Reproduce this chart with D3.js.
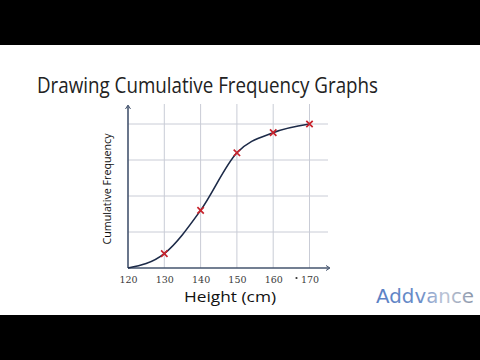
<!DOCTYPE html>
<html><head><meta charset="utf-8">
<script src="https://cdn.jsdelivr.net/npm/d3@7/dist/d3.min.js"></script>
<style>html,body{margin:0;padding:0;background:#fff;}svg{display:block;}</style>
</head><body>
<script>
const heights = [120, 130, 140, 150, 160, 170];
const cumFreq = [0, 10, 40, 80, 94, 100];
const plotted = [130, 140, 150, 160, 170];
const xTicks = [120, 130, 140, 150, 160, 170];
const yGrid = [25, 50, 75, 100];
const title = "Drawing Cumulative Frequency Graphs";
const xLabel = "Height (cm)";
const yLabel = "Cumulative Frequency";

const W = 480, H = 360;
const svg = d3.select("body").append("svg").attr("width", W).attr("height", H);
svg.append("rect").attr("width", W).attr("height", 45).attr("fill", "#000");
svg.append("rect").attr("y", 315).attr("width", W).attr("height", 45).attr("fill", "#000");

svg.append("text").attr("x", 37).attr("y", 93).text(title)
  .attr("font-family", "'Open Sans', Lato, sans-serif").attr("font-size", 21).attr("font-weight", 400)
  .attr("fill", "#222").attr("textLength", 341).attr("lengthAdjust", "spacingAndGlyphs");

const x = d3.scaleLinear().domain([120, 170]).range([128, 309.5]);
const y = d3.scaleLinear().domain([0, 100]).range([268, 124]);

const g = svg.append("g");
g.selectAll(".vg").data(xTicks.slice(1)).join("line")
  .attr("x1", d => x(d)).attr("x2", d => x(d)).attr("y1", 104).attr("y2", 268)
  .attr("stroke", "#c9ccd6").attr("stroke-width", 1);
g.selectAll(".hg").data(yGrid).join("line")
  .attr("x1", 128).attr("x2", 328).attr("y1", d => y(d)).attr("y2", d => y(d))
  .attr("stroke", "#c9ccd6").attr("stroke-width", 1);

const xAxis = d3.axisBottom(x).tickValues(xTicks).tickSize(0).tickPadding(8).tickFormat(d3.format("d"));
const ax = svg.append("g").attr("transform", "translate(0,268)").call(xAxis);
ax.select(".domain").remove();
ax.selectAll("text").attr("font-family", "'DejaVu Serif', serif").attr("font-size", 9.5)
  .attr("fill", "#3a3a3a");
svg.append("line").attr("x1", 128).attr("x2", 329).attr("y1", 268).attr("y2", 268)
  .attr("stroke", "#44546e").attr("stroke-width", 1.6);
svg.append("path").attr("d", "M326,265.5 L330,268 L326,270.5").attr("fill", "none").attr("stroke", "#44546e").attr("stroke-width", 1);
svg.append("line").attr("x1", 128).attr("x2", 128).attr("y1", 106).attr("y2", 268)
  .attr("stroke", "#44546e").attr("stroke-width", 1.6);
svg.append("path").attr("d", "M125.5,109 L128,105 L130.5,109").attr("fill", "none").attr("stroke", "#44546e").attr("stroke-width", 1);

svg.append("circle").attr("cx", 296.5).attr("cy", 278).attr("r", 1.1).attr("fill", "#333");

const pts = heights.map((h, i) => [h, cumFreq[i]]);
svg.append("path").datum(pts)
  .attr("d", d3.line().x(d => x(d[0])).y(d => y(d[1])).curve(d3.curveMonotoneX))
  .attr("fill", "none").attr("stroke", "#1c2a48").attr("stroke-width", 1.6);

const cross = svg.selectAll(".cx").data(pts.filter(d => plotted.includes(d[0]))).join("g")
  .attr("transform", d => `translate(${x(d[0])},${y(d[1])})`);
cross.append("path").attr("d", "M-3.2,-3.2L3.2,3.2M3.2,-3.2L-3.2,3.2").attr("stroke", "#c8232c").attr("stroke-width", 1.7);

svg.append("text").attr("x", 230).attr("y", 302).attr("text-anchor", "middle").text(xLabel)
  .attr("font-family", "'Open Sans', Lato, sans-serif").attr("font-size", 15)
  .attr("fill", "#111").attr("textLength", 92).attr("lengthAdjust", "spacingAndGlyphs");
svg.append("text").attr("transform", "translate(111,189) rotate(-90)").attr("text-anchor", "middle").text(yLabel)
  .attr("font-family", "'Open Sans', Lato, sans-serif").attr("font-size", 11)
  .attr("fill", "#111").attr("textLength", 111).attr("lengthAdjust", "spacingAndGlyphs");

const defs = svg.append("defs");
const lg = defs.append("linearGradient").attr("id", "lg").attr("x1", "0").attr("x2", "1");
lg.append("stop").attr("offset", "0").attr("stop-color", "#5a7fc4");
lg.append("stop").attr("offset", "0.45").attr("stop-color", "#6a8cc8");
lg.append("stop").attr("offset", "0.7").attr("stop-color", "#c0c8d8");
lg.append("stop").attr("offset", "1").attr("stop-color", "#8a94a8");
svg.append("text").attr("x", 376).attr("y", 303).text("Addvance")
  .attr("font-family", "'DejaVu Sans', sans-serif").attr("font-size", 19).attr("fill", "url(#lg)")
  .attr("textLength", 98).attr("lengthAdjust", "spacingAndGlyphs");
</script>
</body></html>
